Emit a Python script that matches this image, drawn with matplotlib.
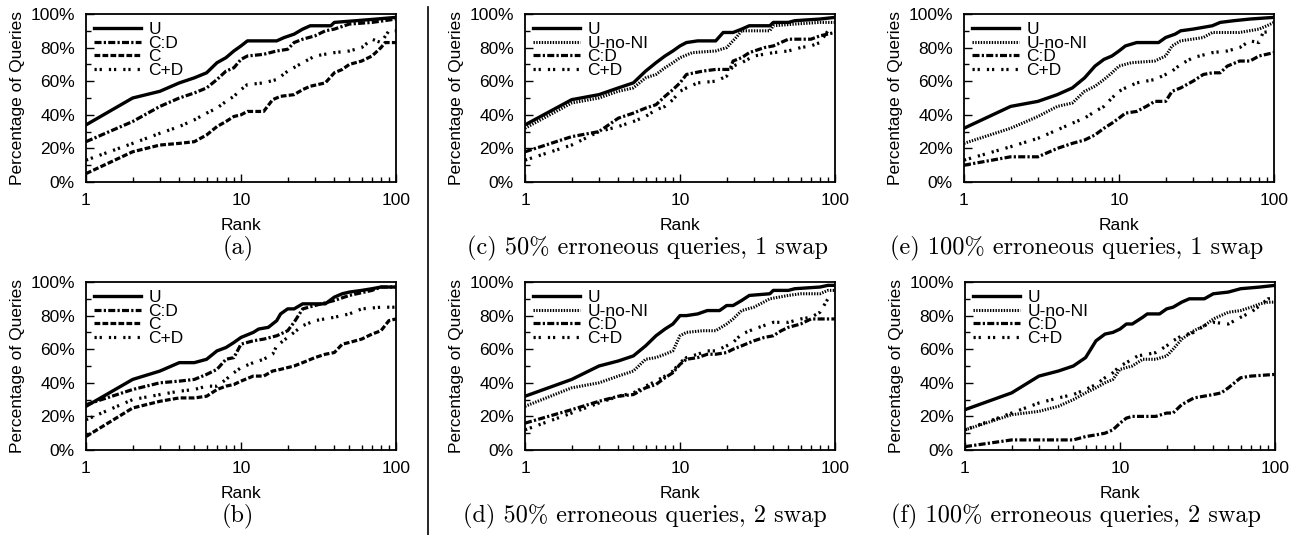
import numpy as np
import matplotlib
matplotlib.use("Agg")
import matplotlib.pyplot as plt

plt.rcParams['font.family'] = ['Liberation Sans', 'DejaVu Sans']

# ---- data (rank, percentage) ----
# (a)
a_U_r = [1, 2, 3, 4, 5, 6, 7, 8, 9, 10, 11, 17, 19, 22, 25, 28, 38, 40, 55, 75, 100]
a_U_v = [34, 50, 54, 59, 62, 65, 71, 74, 78, 81, 84, 84, 86, 88, 91, 93, 93, 95, 96, 97, 98]
a_CD_r = [1, 2, 3, 4, 5, 6, 7, 8, 9, 10, 11, 14, 17, 20, 22, 25, 30, 35, 40, 50, 70, 100]
a_CD_v = [24, 36, 45, 50, 53, 56, 61, 66, 68, 73, 75, 76, 78, 79, 83, 85, 87, 90, 91, 94, 95, 97]
a_C_r = [1, 2, 3, 4, 5, 6, 7, 8, 9, 10, 11, 14, 16, 18, 22, 25, 28, 35, 40, 45, 50, 60, 70, 80, 85, 100]
a_C_v = [5, 18, 22, 23, 24, 28, 33, 36, 39, 40, 42, 42, 49, 51, 52, 55, 57, 59, 65, 67, 70, 72, 75, 80, 83, 83]
a_CpD_r = [1, 2, 3, 4, 5, 6, 7, 8, 9, 10, 11, 14, 17, 20, 25, 30, 40, 50, 60, 70, 80, 90, 100]
a_CpD_v = [13, 23, 29, 33, 37, 41, 44, 48, 51, 55, 58, 59, 61, 66, 71, 75, 77, 78, 80, 85, 83, 90, 90]

# (b)
b_U_r = [1, 2, 3, 4, 5, 6, 7, 8, 9, 10, 12, 13, 15, 17, 18, 20, 22, 25, 35, 40, 45, 50, 60, 70, 80, 100]
b_U_v = [26, 42, 47, 52, 52, 54, 59, 61, 64, 67, 70, 72, 73, 77, 81, 84, 84, 87, 87, 91, 93, 94, 95, 96, 97, 97]
b_CD_r = [1, 2, 3, 4, 5, 6, 7, 8, 9, 10, 12, 14, 17, 20, 22, 25, 30, 40, 50, 70, 80, 100]
b_CD_v = [27, 36, 40, 41, 42, 45, 48, 54, 55, 63, 65, 66, 68, 71, 76, 84, 86, 89, 92, 95, 97, 97]
b_C_r = [1, 2, 3, 4, 5, 6, 7, 8, 9, 10, 12, 14, 16, 18, 22, 25, 30, 35, 40, 45, 50, 60, 70, 80, 90, 100]
b_C_v = [8, 25, 29, 31, 31, 32, 36, 38, 39, 41, 44, 44, 47, 48, 50, 52, 55, 57, 58, 63, 64, 66, 69, 71, 77, 78]
b_CpD_r = [1, 2, 3, 4, 5, 6, 7, 8, 9, 10, 12, 14, 16, 17, 20, 22, 25, 30, 40, 50, 60, 80, 100]
b_CpD_v = [18, 30, 33, 35, 36, 38, 38, 42, 46, 49, 52, 54, 57, 62, 67, 70, 74, 77, 79, 81, 84, 85, 85]

# (c)
c_U_r = [1, 2, 3, 4, 5, 6, 7, 8, 9, 10, 11, 13, 17, 19, 22, 25, 28, 38, 40, 50, 55, 80, 100]
c_U_v = [34, 49, 52, 56, 59, 66, 71, 75, 78, 81, 83, 84, 84, 89, 89, 91, 93, 93, 95, 95, 96, 97, 98]
c_UN_r = [1, 2, 3, 4, 5, 6, 7, 8, 9, 10, 12, 17, 20, 23, 25, 38, 40, 55, 80, 100]
c_UN_v = [32, 47, 50, 54, 56, 62, 64, 68, 71, 74, 77, 78, 80, 86, 90, 90, 93, 94, 95, 95]
c_CD_r = [1, 2, 3, 4, 5, 6, 7, 8, 9, 10, 11, 14, 17, 21, 22, 25, 28, 35, 40, 50, 70, 80, 100]
c_CD_v = [18, 27, 30, 38, 41, 44, 46, 51, 55, 59, 64, 66, 67, 67, 72, 74, 77, 80, 81, 85, 85, 87, 89]
c_CpD_r = [1, 2, 3, 4, 5, 6, 7, 8, 9, 10, 11, 13, 17, 20, 22, 25, 30, 40, 50, 60, 70, 80, 90, 100]
c_CpD_v = [13, 22, 30, 33, 36, 39, 43, 45, 49, 54, 56, 59, 60, 63, 69, 71, 75, 77, 78, 80, 81, 83, 90, 90]

# (d)
d_U_r = [1, 2, 3, 4, 5, 6, 7, 8, 9, 10, 11, 13, 15, 18, 20, 22, 25, 28, 38, 40, 50, 55, 80, 90, 100]
d_U_v = [32, 42, 50, 53, 56, 62, 68, 72, 75, 80, 80, 81, 83, 83, 86, 86, 89, 92, 93, 95, 95, 96, 97, 98, 98]
d_UN_r = [1, 2, 3, 4, 5, 6, 7, 8, 9, 10, 11, 14, 17, 20, 22, 25, 30, 38, 50, 60, 80, 90, 100]
d_UN_v = [26, 37, 40, 44, 47, 54, 55, 57, 59, 68, 70, 71, 71, 75, 78, 83, 85, 90, 92, 93, 93, 95, 95]
d_CD_r = [1, 2, 3, 4, 5, 6, 7, 8, 9, 10, 11, 13, 15, 17, 20, 22, 25, 30, 35, 40, 45, 50, 60, 70, 80, 100]
d_CD_v = [16, 24, 29, 32, 33, 37, 39, 43, 46, 51, 54, 55, 57, 57, 58, 60, 62, 65, 67, 68, 71, 73, 75, 78, 78, 78]
d_CpD_r = [1, 2, 3, 4, 5, 6, 7, 8, 9, 10, 11, 13, 15, 17, 20, 22, 25, 30, 40, 50, 60, 70, 80, 90, 100]
d_CpD_v = [12, 22, 28, 32, 34, 38, 41, 44, 47, 52, 55, 57, 59, 59, 62, 64, 69, 72, 76, 76, 78, 79, 82, 90, 90]

# (e)
e_U_r = [1, 2, 3, 4, 5, 6, 7, 8, 9, 10, 11, 13, 18, 20, 23, 25, 30, 40, 45, 55, 70, 100]
e_U_v = [32, 45, 48, 52, 56, 62, 69, 73, 75, 78, 81, 83, 83, 86, 88, 90, 91, 93, 95, 96, 97, 98]
e_UN_r = [1, 2, 3, 4, 5, 6, 7, 8, 9, 10, 12, 17, 20, 22, 25, 35, 40, 60, 80, 90, 100]
e_UN_v = [23, 32, 39, 45, 47, 54, 57, 61, 65, 69, 71, 72, 75, 81, 84, 86, 89, 89, 91, 93, 95]
e_CD_r = [1, 2, 3, 4, 5, 6, 7, 8, 9, 10, 11, 13, 15, 17, 20, 22, 25, 30, 35, 40, 45, 50, 60, 70, 80, 100]
e_CD_v = [10, 15, 15, 20, 23, 25, 28, 32, 35, 38, 41, 42, 45, 48, 48, 54, 56, 60, 64, 65, 65, 69, 72, 72, 75, 77]
e_CpD_r = [1, 2, 3, 4, 5, 6, 7, 8, 9, 10, 11, 13, 17, 20, 22, 25, 30, 40, 50, 60, 70, 80, 85, 100]
e_CpD_v = [13, 21, 26, 31, 35, 38, 42, 45, 50, 54, 56, 59, 61, 64, 66, 70, 74, 77, 78, 80, 84, 83, 89, 90]

# (f)
f_U_r = [1, 2, 3, 4, 5, 6, 7, 8, 9, 10, 11, 12, 14, 15, 18, 20, 22, 25, 28, 35, 40, 50, 60, 80, 100]
f_U_v = [24, 34, 44, 47, 50, 55, 65, 69, 70, 72, 75, 75, 79, 81, 81, 84, 85, 88, 90, 90, 93, 94, 96, 97, 98]
f_UN_r = [1, 2, 3, 4, 5, 6, 7, 8, 9, 10, 12, 14, 17, 20, 22, 25, 30, 35, 40, 50, 60, 70, 80, 90, 100]
f_UN_v = [12, 21, 23, 26, 30, 34, 37, 40, 42, 48, 50, 54, 54, 56, 60, 66, 71, 74, 78, 82, 83, 85, 87, 88, 88]
f_CD_r = [1, 2, 3, 4, 5, 6, 7, 8, 9, 10, 11, 12, 17, 20, 22, 25, 30, 40, 45, 50, 60, 70, 100]
f_CD_v = [2, 6, 6, 6, 6, 8, 9, 10, 12, 16, 19, 20, 20, 22, 22, 27, 31, 33, 34, 37, 43, 44, 45]
f_CpD_r = [1, 2, 3, 4, 5, 6, 7, 8, 9, 10, 11, 13, 15, 17, 20, 22, 25, 30, 35, 40, 50, 60, 70, 80, 90, 100]
f_CpD_v = [12, 22, 28, 31, 33, 36, 39, 43, 46, 50, 52, 56, 57, 58, 62, 65, 68, 70, 74, 76, 75, 79, 82, 86, 90, 90]

captions = ["(a)", "(b)",
            "(c) 50% erroneous queries, 1 swap", "(d) 50% erroneous queries, 2 swap",
            "(e) 100% erroneous queries, 1 swap", "(f) 100% erroneous queries, 2 swap"]

# line styles
sty = {
    "U": dict(ls="-", lw=2.4),
    "U-no-NI": dict(ls=(0, (0.45, 0.45)), lw=2.2),
    "C:D": dict(ls=(0, (2.2, 0.7, 0.7, 0.7)), lw=2.3),
    "C": dict(ls=(0, (1.8, 0.7)), lw=2.3),
    "C+D": dict(ls=(0, (0.7, 0.9, 0.7, 2.2)), lw=2.3),
}

panels = [
    ("a", [("U", a_U_r, a_U_v), ("C:D", a_CD_r, a_CD_v), ("C", a_C_r, a_C_v), ("C+D", a_CpD_r, a_CpD_v)]),
    ("b", [("U", b_U_r, b_U_v), ("C:D", b_CD_r, b_CD_v), ("C", b_C_r, b_C_v), ("C+D", b_CpD_r, b_CpD_v)]),
    ("c", [("U", c_U_r, c_U_v), ("U-no-NI", c_UN_r, c_UN_v), ("C:D", c_CD_r, c_CD_v), ("C+D", c_CpD_r, c_CpD_v)]),
    ("d", [("U", d_U_r, d_U_v), ("U-no-NI", d_UN_r, d_UN_v), ("C:D", d_CD_r, d_CD_v), ("C+D", d_CpD_r, d_CpD_v)]),
    ("e", [("U", e_U_r, e_U_v), ("U-no-NI", e_UN_r, e_UN_v), ("C:D", e_CD_r, e_CD_v), ("C+D", e_CpD_r, e_CpD_v)]),
    ("f", [("U", f_U_r, f_U_v), ("U-no-NI", f_UN_r, f_UN_v), ("C:D", f_CD_r, f_CD_v), ("C+D", f_CpD_r, f_CpD_v)]),
]

W, H = 1301, 535
fig = plt.figure(figsize=(W / 100, H / 100), dpi=100)

# axes boxes in pixels: left, top
boxes = [(86, 14), (86, 282), (525, 14), (525, 282), (964, 14), (965, 282)]
cap_x = [238, 238, 647, 645, 1077, 1076]
cap_y = [248, 516, 248, 516, 248, 516]
aw, ah = 310, 168

for i, (name, series) in enumerate(panels):
    l, t = boxes[i]
    ax = fig.add_axes([l / W, 1 - (t + ah) / H, aw / W, ah / H])
    for lab, r, v in series:
        ax.plot(r, v, color="black", label=lab, **sty[lab])
    ax.set_xscale("log")
    ax.set_xlim(1, 100)
    ax.set_ylim(0, 100)
    ax.set_xticks([1, 10, 100])
    ax.set_xticklabels(["1", "10", "100"])
    ax.set_yticks(np.arange(0, 101, 20))
    ax.set_yticklabels(["%d%%" % v for v in range(0, 101, 20)])
    ax.set_yticks(np.arange(10, 100, 20), minor=True)
    ax.tick_params(which="both", direction="in", top=False, right=False,
                   labelsize=12.5, width=1.0)
    ax.tick_params(which="major", length=6, pad=8)
    ax.tick_params(which="minor", length=3.5)
    for s in ax.spines.values():
        s.set_linewidth(1.3)
    ax.set_xlabel("Rank", fontsize=12.5, labelpad=7)
    ax.set_ylabel("Percentage of Queries", fontsize=12.5, labelpad=4)
    ax.legend(loc="upper left", frameon=False, fontsize=12.5, handlelength=2.7,
              handletextpad=0.45, labelspacing=-0.08, borderaxespad=0.35,
              borderpad=0.1)
    fig.text(cap_x[i] / W, 1 - cap_y[i] / H, captions[i], ha="center", va="center",
             fontsize=17.5, family="cmr10")

# vertical separator between (a)/(b) and the rest
sep = plt.Line2D([428 / W, 428 / W], [0, 1 - 7 / H], transform=fig.transFigure,
                 color="black", lw=1.2)
fig.add_artist(sep)

fig.savefig("out.png", dpi=100)
